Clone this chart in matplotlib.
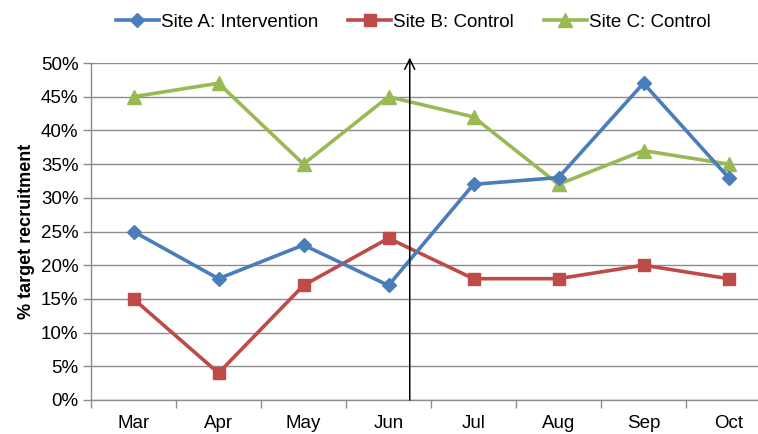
import numpy as np
import matplotlib.pyplot as plt
from matplotlib.ticker import PercentFormatter

plt.rcParams['font.family'] = ['Liberation Sans', 'DejaVu Sans']

months = ["Mar", "Apr", "May", "Jun", "Jul", "Aug", "Sep", "Oct"]
site_a = [25, 18, 23, 17, 32, 33, 47, 33]
site_b = [15, 4, 17, 24, 18, 18, 20, 18]
site_c = [45, 47, 35, 45, 42, 32, 37, 35]
intervention_at = 3.25  # between Jun and Jul

fig = plt.figure(figsize=(7.58, 4.34), dpi=100)
ax = fig.add_axes([91 / 758, 34 / 434, 680 / 758, 337 / 434])

x = np.arange(len(months))
ax.plot(x, site_a, color="#4A7EBB", lw=2.6, marker="D", ms=7,
        label="Site A: Intervention", zorder=4)
ax.plot(x, site_b, color="#BE4B48", lw=2.6, marker="s", ms=8.5,
        label="Site B: Control", zorder=3)
ax.plot(x, site_c, color="#98B954", lw=2.6, marker="^", ms=9.5,
        label="Site C: Control", zorder=2)

ax.annotate("", xy=(intervention_at, 50.8), xytext=(intervention_at, 0),
            arrowprops=dict(arrowstyle="->", color="black", lw=1.1,
                            mutation_scale=18, shrinkA=0, shrinkB=0),
            annotation_clip=False, zorder=5)

ax.set_xlim(-0.5, len(months) - 0.5)
ax.set_ylim(0, 50)
ax.set_yticks(np.arange(0, 51, 5))
ax.yaxis.set_major_formatter(PercentFormatter(decimals=0))
ax.set_xticks(x)
ax.set_xticklabels(months)
ax.set_xticks(np.arange(-0.5, len(months)), minor=True)
ax.tick_params(axis="x", which="major", length=0, pad=11, labelsize=13.5)
ax.tick_params(axis="x", which="minor", length=6, color="#8c8c8c", width=1)
ax.tick_params(axis="y", length=6, color="#8c8c8c", width=1, labelsize=13.5, pad=3)

ax.grid(axis="y", color="#8c8c8c", lw=1)
ax.set_axisbelow(True)
for s in ["top", "right"]:
    ax.spines[s].set_visible(False)
for s in ["left", "bottom"]:
    ax.spines[s].set_color("#8c8c8c")
    ax.spines[s].set_linewidth(1)

ax.set_ylabel("% target recruitment", fontsize=13, fontweight="bold", labelpad=4)

fig.legend(loc="center", bbox_to_anchor=(0.545, 1 - 22 / 434), ncol=3,
           frameon=False, fontsize=13.5, handlelength=2.3, handletextpad=0.1,
           columnspacing=1.6)

fig.savefig("out.png", dpi=100)
